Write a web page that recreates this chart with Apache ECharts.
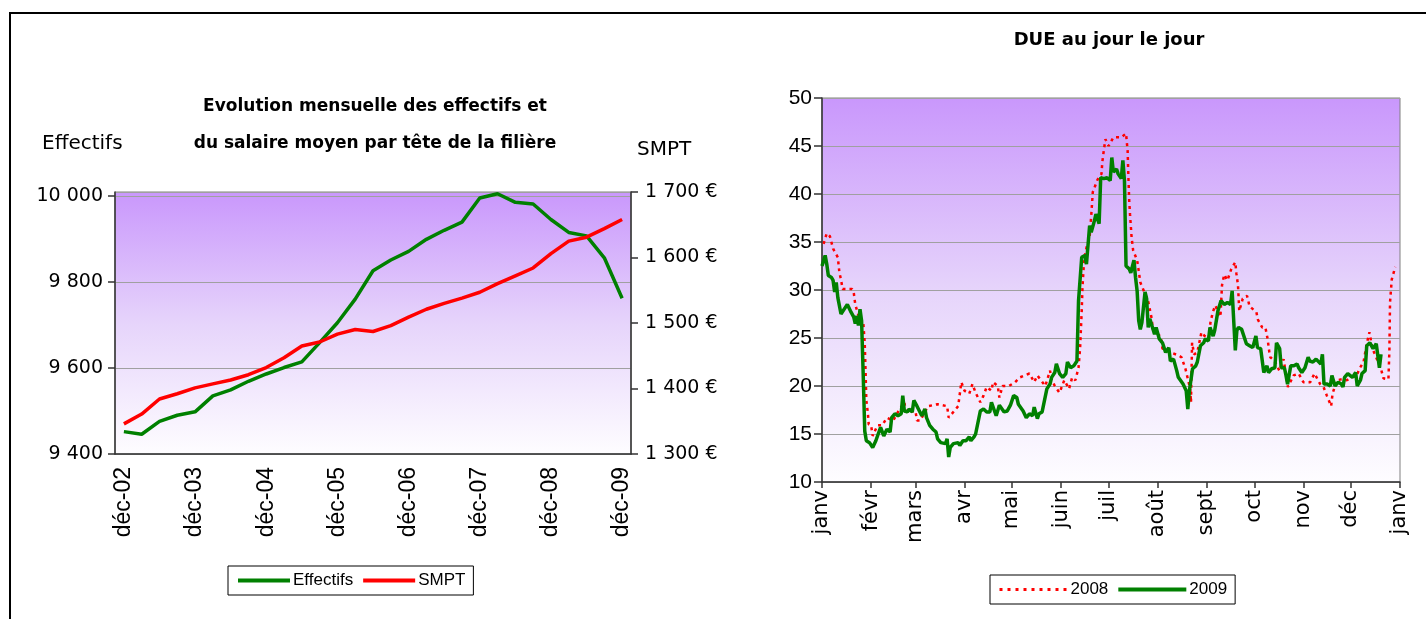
<!DOCTYPE html>
<html>
<head>
<meta charset="utf-8">
<script src="https://cdn.jsdelivr.net/npm/echarts@6/dist/echarts.min.js"></script>
<style>
  html, body { margin: 0; padding: 0; background: #fff; }
  #chart { width: 1426px; height: 619px; }
</style>
</head>
<body>
<div id="chart"></div>
<script>
// left chart: quarterly data, déc-02 .. déc-09
const quarters = [
  'déc-02', 'mars-03', 'juin-03', 'sept-03',
  'déc-03', 'mars-04', 'juin-04', 'sept-04',
  'déc-04', 'mars-05', 'juin-05', 'sept-05',
  'déc-05', 'mars-06', 'juin-06', 'sept-06',
  'déc-06', 'mars-07', 'juin-07', 'sept-07',
  'déc-07', 'mars-08', 'juin-08', 'sept-08',
  'déc-08', 'mars-09', 'juin-09', 'sept-09',
  'déc-09'
];
const effectifs = [
  9452, 9446, 9476, 9490, 9498, 9535, 9549, 9569, 9586, 9601,
  9614, 9659, 9705, 9760, 9826, 9851, 9871, 9899, 9920, 9939,
  9995, 10005, 9985, 9981, 9945, 9915, 9907, 9856, 9762
];
const smpt = [
  1346, 1361, 1384, 1392, 1401, 1407, 1413, 1421, 1432, 1447,
  1465, 1471, 1483, 1490, 1487, 1496, 1509, 1521, 1530, 1538,
  1547, 1560, 1572, 1584, 1606, 1625, 1631, 1644, 1658
];

// right chart: daily DUE, x = day of year
const monthStarts = [0, 31, 59, 90, 120, 151, 181, 212, 243, 273, 304, 334, 365];
const monthLabels = ['janv', 'févr', 'mars', 'avr', 'mai', 'juin', 'juil', 'août', 'sept', 'oct', 'nov', 'déc', 'janv'];

const days2008 = [
  1, 3, 5, 7, 10, 11, 12, 13, 17, 19, 20, 21, 24, 26, 27, 27.5, 28, 29, 29.5, 31,
  32, 35, 38, 41, 45, 48, 52, 53, 59, 60, 62, 67, 68, 73, 74, 79, 80, 86, 88, 90,
  93, 95, 97, 100, 102, 104, 107, 108, 111, 112, 114, 118, 122, 125, 128, 131, 134, 136, 141, 144,
  145, 147, 150, 153, 156, 158, 160, 162, 163, 164, 164.5, 165.5, 167, 169, 170, 171, 174, 176.5, 177, 178,
  179, 181, 184, 187, 189, 192, 193, 193.5, 194, 194.5, 195.5, 196.5, 199, 200, 201, 203, 206, 208, 209, 214,
  215, 218, 220, 225, 227, 229.5, 232.5, 233, 233.7, 235, 237, 239.6, 241.7, 244, 245.3, 246.8, 248.4, 251.6, 252.6, 254,
  256, 257, 258.5, 261, 261.7, 262.7, 263.5, 265.7, 268.4, 270, 274.3, 275.3, 278, 280, 281.4, 282.5, 283.1, 285.8, 288.8, 291.5,
  292.6, 294.2, 297.8, 301, 304, 308.3, 311, 314.6, 316.7, 318.8, 321.5, 322.4, 325.1, 328.3, 331.4, 334.6, 337.7, 339.4, 342, 344,
  345.7, 347.6, 353, 354.5, 357.7, 358.3, 358.7, 359.8, 362
];
const due2008 = [
  34.8, 35.9, 35.6, 34.3, 33.4, 31.8, 31.1, 30.1, 30.1, 30.1, 29.8, 28.5, 26.8, 26.8, 24.4, 21.6, 18.5, 17.1, 16.0, 15.9,
  14.8, 15.9, 15.9, 16.7, 16.4, 17.3, 18.3, 17.3, 17.4, 16.4, 16.4, 17.9, 17.9, 18.1, 18.1, 17.9, 16.7, 17.9, 20.4, 19.5,
  19.2, 20.2, 19.3, 18.3, 19.0, 19.9, 19.5, 20.4, 20.0, 18.8, 20.0, 20.0, 20.4, 20.9, 21.1, 21.3, 20.4, 21.1, 20.0, 21.6,
  20.7, 20.0, 19.3, 20.6, 19.7, 20.9, 20.6, 21.9, 24.0, 27.8, 30.3, 33.1, 34.4, 35.5, 37.7, 40.2, 41.5, 42.1, 43.3, 44.6,
  45.7, 45.0, 45.9, 45.9, 45.9, 46.3, 44.5, 41.7, 39.3, 37.9, 35.5, 34.1, 33.1, 32.0, 30.8, 30.0, 28.8, 27.2, 25.9, 25.1,
  23.9, 23.7, 23.5, 23.2, 23.0, 21.8, 19.7, 18.3, 24.5, 23.3, 23.5, 25.6, 25.2, 24.9, 26.6, 27.7, 28.4, 27.2, 30.5, 31.6,
  31.0, 30.8, 32.2, 32.9, 31.7, 30.5, 27.8, 29.1, 29.4, 28.3, 27.7, 26.9, 26.1, 26.1, 24.9, 23.5, 23.0, 22.6, 21.6, 22.8,
  21.6, 19.9, 21.1, 21.3, 20.4, 20.4, 21.3, 20.2, 19.9, 19.0, 17.9, 19.2, 20.6, 20.7, 20.6, 20.9, 21.1, 21.8, 22.5, 24.4,
  25.6, 23.9, 21.8, 20.8, 20.7, 23.7, 28.7, 31.1, 32.4
];

const days2009 = [
  0, 2, 3, 4, 6, 7, 8, 9, 10, 12, 13, 16, 18, 20, 21, 22, 23, 24, 25, 26,
  27, 28, 30, 31, 32, 34, 35, 37, 39, 40, 41, 43, 44, 46, 48, 50, 51, 52, 54, 55,
  57, 58, 60, 61, 63, 65, 66, 68, 70, 72, 73, 75, 78, 79, 80, 81, 83, 84, 86, 87,
  89, 91, 93, 94, 96, 97, 98, 100, 102, 104, 106, 107, 108, 110, 112, 113, 115, 117, 119, 121,
  123, 124, 127, 129, 131, 133, 134, 136, 137, 139, 140, 142, 144, 145, 147, 148, 150, 152, 154, 155,
  157, 159, 161, 162, 164, 166, 167, 169, 170, 172, 173, 175, 176, 178, 180, 182, 183, 184, 186, 187,
  189, 190, 191, 192, 194, 195, 197, 198, 199, 200, 201, 202, 204, 205, 206, 207, 210, 211, 213, 215,
  217, 219, 220, 222, 224, 225, 226, 228, 230, 231, 232, 234, 236, 237, 239, 241, 242, 244, 245, 247,
  248, 250, 252, 254, 256, 258, 259, 261, 262, 263, 265, 266, 268, 270, 272, 274, 275, 277, 278, 279,
  281, 282, 284, 286, 287, 289, 290, 292, 293, 294, 296, 298, 300, 301, 303, 305, 307, 308, 310, 312,
  315, 316, 317, 319, 321, 322, 324, 326, 328, 329, 330, 332, 335, 337, 338, 340, 341, 343, 344, 346,
  348, 350, 352, 353
];
const due2009 = [
  32.5, 33.6, 32.7, 31.5, 31.3, 31.0, 29.8, 30.8, 29.2, 27.5, 27.3, 28.5, 27.8, 27.2, 26.5, 27.3, 26.3, 28.0, 26.8, 21.3,
  15.3, 14.3, 14.1, 14.0, 13.6, 14.3, 14.5, 15.7, 14.8, 15.0, 15.5, 15.2, 16.7, 17.1, 16.9, 17.1, 19.0, 17.4, 17.3, 17.6,
  17.3, 18.5, 17.9, 18.1, 16.9, 17.6, 16.7, 15.9, 15.5, 15.2, 14.5, 14.1, 14.0, 14.5, 12.6, 13.6, 14.0, 14.0, 14.1, 13.8,
  14.3, 14.3, 14.7, 14.3, 14.7, 15.0, 15.2, 17.4, 17.6, 17.3, 17.3, 18.3, 18.1, 16.9, 18.0, 17.8, 17.3, 17.4, 18.0, 19.0,
  18.8, 18.1, 17.4, 16.7, 17.1, 16.9, 17.8, 16.6, 17.1, 17.3, 17.1, 19.7, 20.2, 20.9, 21.4, 22.3, 21.3, 20.9, 21.3, 22.5,
  21.9, 22.1, 22.6, 28.9, 33.4, 33.6, 32.7, 36.7, 36.0, 37.2, 37.9, 36.9, 41.7, 41.6, 41.7, 41.4, 43.8, 42.3, 42.6, 42.1,
  41.6, 43.5, 41.4, 32.5, 32.2, 31.8, 33.1, 31.3, 29.9, 26.8, 25.9, 26.6, 29.8, 29.1, 26.1, 27.0, 25.4, 26.1, 24.9, 24.5,
  23.5, 24.0, 22.6, 22.8, 21.6, 20.9, 20.7, 20.2, 19.5, 17.6, 19.5, 21.8, 22.1, 22.5, 24.2, 24.5, 24.9, 24.7, 26.1, 25.2,
  25.8, 27.8, 28.9, 28.5, 28.7, 28.5, 29.9, 23.7, 25.8, 26.1, 25.9, 26.1, 24.4, 24.2, 24.0, 25.2, 24.0, 23.9, 24.0, 21.4,
  22.1, 21.4, 21.8, 21.9, 24.5, 23.9, 21.9, 21.9, 21.1, 20.2, 22.1, 22.1, 22.3, 21.9, 21.4, 21.9, 23.0, 22.6, 22.5, 22.8,
  22.3, 23.3, 20.2, 20.2, 20.0, 21.1, 20.0, 20.4, 20.2, 19.9, 20.9, 21.3, 20.9, 21.4, 20.0, 20.6, 21.3, 21.6, 24.2, 24.5,
  23.9, 24.4, 21.9, 23.3
];

const comic = '"DejaVu Sans", sans-serif';
const arial = '"Liberation Sans", Arial, sans-serif';

function plotGradient() {
  return new echarts.graphic.LinearGradient(0, 0, 0, 1, [
    { offset: 0, color: '#c997fc' },
    { offset: 0.5, color: '#e6d4fb' },
    { offset: 1, color: '#fefdff' }
  ]);
}

function spaced(value) {
  return String(value).replace(/\B(?=(\d{3})+(?!\d))/g, ' ');
}

function pairs(xs, ys) {
  return xs.map((x, i) => [x, ys[i]]);
}

function textEl(text, x, y, font, align) {
  return {
    type: 'text',
    x: x,
    y: y,
    style: {
      text: text,
      font: font,
      fill: '#000',
      align: align || 'center',
      textAlign: align || 'center',
      verticalAlign: 'middle',
      textVerticalAlign: 'middle'
    }
  };
}

function legendBox(items, left, top, iconWidth) {
  return {
    data: items,
    left: left,
    top: top,
    padding: [6, 8, 6, 8],
    itemGap: 8,
    itemWidth: iconWidth,
    itemHeight: 14,
    borderColor: '#000',
    borderWidth: 1,
    itemStyle: { opacity: 0 },
    textStyle: { fontFamily: arial, fontSize: 17, color: '#000', padding: [0, 0, 0, -2] }
  };
}

const chart = echarts.init(document.getElementById('chart'));

chart.setOption({
  animation: false,
  graphic: [
    {
      type: 'rect',
      shape: { x: 10, y: 13, width: 1440, height: 700 },
      style: { fill: 'none', stroke: '#000', lineWidth: 2 }
    },
    textEl('Evolution mensuelle des effectifs et', 375, 107, 'bold 17px ' + comic),
    textEl('du salaire moyen par tête de la filière', 375, 144, 'bold 17px ' + comic),
    textEl('Effectifs', 42, 144, '20px ' + comic, 'left'),
    textEl('SMPT', 637, 150, '20px ' + comic, 'left'),
    textEl('DUE au jour le jour', 1109, 40, 'bold 18px ' + comic)
  ],
  legend: [
    legendBox([
      { name: 'Effectifs', lineStyle: { width: 4 } },
      { name: 'SMPT', lineStyle: { width: 4 } }
    ], 228, 566, 52),
    legendBox([
      { name: '2008', lineStyle: { width: 3, type: [3, 5] } },
      { name: '2009', lineStyle: { width: 4 } }
    ], 990, 575, 68)
  ],
  grid: [
    {
      left: 115, top: 192, width: 516, height: 262,
      show: true, backgroundColor: plotGradient(),
      borderColor: '#808080', borderWidth: 1
    },
    {
      left: 822, top: 98, width: 578, height: 384,
      show: true, backgroundColor: plotGradient(),
      borderColor: '#808080', borderWidth: 1
    }
  ],
  xAxis: [
    {
      gridIndex: 0,
      type: 'category',
      data: quarters,
      boundaryGap: true,
      axisLine: { lineStyle: { color: '#333', width: 1.5 } },
      axisTick: { inside: true, length: 8, interval: 3, lineStyle: { color: '#333', width: 1.5 } },
      axisLabel: {
        interval: 3, rotate: 90, margin: 13,
        fontFamily: arial, fontSize: 23, color: '#000'
      },
      splitLine: { show: false }
    },
    {
      gridIndex: 1,
      type: 'value',
      min: 0,
      max: 365,
      axisLine: { lineStyle: { color: '#333', width: 1.5 } },
      axisTick: { length: 6, customValues: monthStarts, lineStyle: { color: '#333', width: 1.5 } },
      axisLabel: {
        customValues: monthStarts,
        rotate: 90, margin: 8,
        fontFamily: comic, fontSize: 21, color: '#000',
        formatter: v => monthLabels[monthStarts.indexOf(v)]
      },
      splitLine: { show: false }
    }
  ],
  yAxis: [
    {
      gridIndex: 0,
      type: 'value',
      min: 9400,
      max: 10009,
      interval: 200,
      axisLine: { show: true, lineStyle: { color: '#333', width: 1.5 } },
      axisTick: { show: true, length: 7, lineStyle: { color: '#333', width: 1.5 } },
      axisLabel: {
        showMaxLabel: false, margin: 12,
        fontFamily: comic, fontSize: 19, color: '#000',
        formatter: v => spaced(v)
      },
      splitLine: { lineStyle: { color: '#a0a0a0', width: 1 } }
    },
    {
      gridIndex: 0,
      type: 'value',
      position: 'right',
      min: 1300,
      max: 1700,
      interval: 100,
      axisLine: { show: true, lineStyle: { color: '#333', width: 1.5 } },
      axisTick: { show: true, length: 7, lineStyle: { color: '#333', width: 1.5 } },
      axisLabel: {
        margin: 14,
        fontFamily: comic, fontSize: 19, color: '#000',
        formatter: v => spaced(v) + ' €'
      },
      splitLine: { show: false }
    },
    {
      gridIndex: 1,
      type: 'value',
      min: 10,
      max: 50,
      interval: 5,
      axisLine: { show: true, lineStyle: { color: '#333', width: 1.5 } },
      axisTick: { show: true, length: 8, lineStyle: { color: '#333', width: 1.5 } },
      axisLabel: { margin: 10, fontFamily: arial, fontSize: 21, color: '#000' },
      splitLine: { lineStyle: { color: '#a0a0a0', width: 1 } }
    }
  ],
  series: [
    {
      name: 'Effectifs',
      type: 'line',
      xAxisIndex: 0,
      yAxisIndex: 0,
      data: effectifs,
      symbol: 'none',
      color: '#008000',
      lineStyle: { color: '#008000', width: 3.5 }
    },
    {
      name: 'SMPT',
      type: 'line',
      xAxisIndex: 0,
      yAxisIndex: 1,
      data: smpt,
      symbol: 'none',
      color: '#ff0000',
      lineStyle: { color: '#ff0000', width: 3.5 }
    },
    {
      name: '2008',
      type: 'line',
      xAxisIndex: 1,
      yAxisIndex: 2,
      data: pairs(days2008, due2008),
      symbol: 'none',
      color: '#ff0000',
      lineStyle: { color: '#ff0000', width: 2.5, type: [3, 4] }
    },
    {
      name: '2009',
      type: 'line',
      xAxisIndex: 1,
      yAxisIndex: 2,
      data: pairs(days2009, due2009),
      symbol: 'none',
      color: '#008000',
      lineStyle: { color: '#008000', width: 3.5 }
    }
  ]
});
</script>
</body>
</html>
